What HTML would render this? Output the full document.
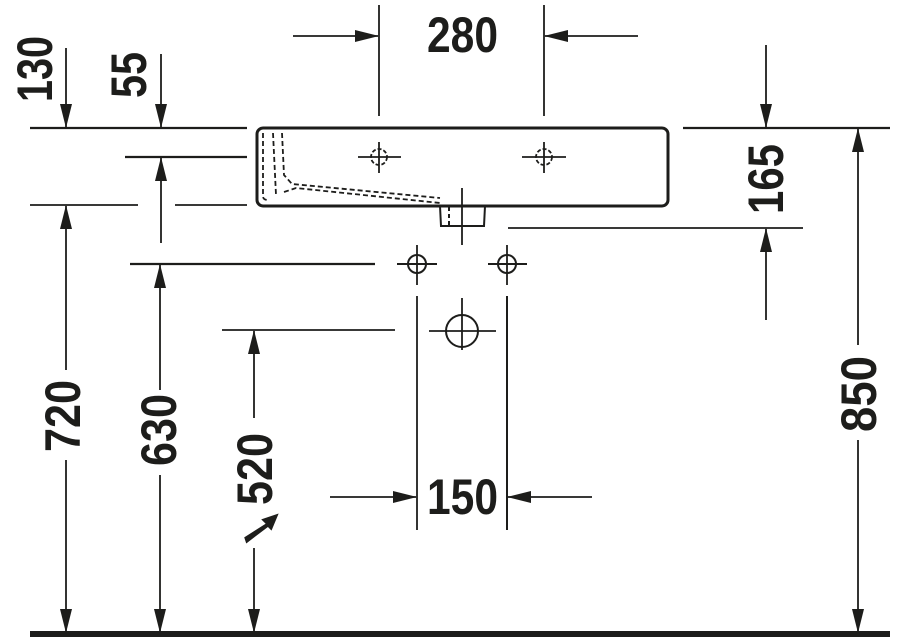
<!DOCTYPE html>
<html><head><style>
html,body{margin:0;padding:0;background:#fff;}
svg{display:block;}
text{font-family:"Liberation Sans Narrow","Liberation Sans",sans-serif;font-weight:bold;font-size:50px;fill:#1d1d1b;}
</style></head><body>
<svg width="900" height="642" viewBox="0 0 900 642" xmlns="http://www.w3.org/2000/svg">
<defs>
<marker id="a" viewBox="0 0 24 12" refX="23" refY="6" markerWidth="24" markerHeight="12" markerUnits="userSpaceOnUse" orient="auto"><path d="M0,0 L24,6 L0,12 z" fill="#1d1d1b"/></marker>
</defs>
<g stroke="#1d1d1b" fill="none" stroke-width="1.8">
<line x1="30" y1="634" x2="890" y2="634" stroke-width="6"/>
<line x1="30" y1="128" x2="247" y2="128" stroke-width="2.2"/>
<line x1="683" y1="128" x2="890" y2="128" stroke-width="2.2"/>
<line x1="125" y1="157" x2="247" y2="157" stroke-width="2.2"/>
<line x1="30" y1="205" x2="138" y2="205"/>
<line x1="175" y1="205" x2="247" y2="205"/>
<line x1="130" y1="264" x2="375" y2="264" stroke-width="2.2"/>
<line x1="222" y1="330" x2="395" y2="330"/>
<line x1="508" y1="228" x2="803" y2="228"/>
<rect x="257" y="128" width="411" height="78" rx="6" stroke-width="3"/>
<path d="M263,133 L263,196 Q263,200 268,200 M273,133 L276,195 M282,133 L284,175 L292,184 L440,198 M284,192 L296,188 L440,203" stroke-dasharray="5,3"/>
<path d="M440,206 L441,226 L484,226 L485,206" stroke-width="2"/>
<line x1="449" y1="207" x2="449" y2="225" stroke-dasharray="4,3" stroke-width="2"/>
<circle cx="379" cy="157" r="8" stroke-dasharray="4,2"/>
<line x1="358" y1="157" x2="401" y2="157"/><line x1="379" y1="142" x2="379" y2="173"/>
<circle cx="544" cy="157" r="8" stroke-dasharray="4,2"/>
<line x1="522" y1="157" x2="566" y2="157"/><line x1="544" y1="142" x2="544" y2="173"/>
<line x1="462" y1="188" x2="462" y2="245"/>
<circle cx="417" cy="264" r="9" stroke-width="2"/>
<line x1="397" y1="264" x2="437" y2="264" stroke-width="2"/><line x1="417" y1="245" x2="417" y2="285"/>
<circle cx="507" cy="264" r="9" stroke-width="2"/>
<line x1="488" y1="264" x2="527" y2="264" stroke-width="2"/><line x1="507" y1="245" x2="507" y2="285"/>
<circle cx="462" cy="331" r="16" stroke-width="2"/>
<line x1="429" y1="331" x2="496" y2="331"/><line x1="462" y1="298" x2="462" y2="350"/>
<line x1="417" y1="296" x2="417" y2="530"/>
<line x1="507" y1="296" x2="507" y2="530" stroke-width="2"/>
<line x1="330" y1="497" x2="416" y2="497" marker-end="url(#a)"/>
<line x1="592" y1="497" x2="508" y2="497" marker-end="url(#a)"/>
<line x1="379" y1="5" x2="379" y2="116"/>
<line x1="544" y1="5" x2="544" y2="116"/>
<line x1="293" y1="36" x2="378" y2="36" marker-end="url(#a)"/>
<line x1="638" y1="36" x2="545" y2="36" marker-end="url(#a)"/>
<line x1="66" y1="48" x2="66" y2="127" marker-end="url(#a)"/>
<line x1="161" y1="54" x2="161" y2="127" marker-end="url(#a)"/>
<line x1="161" y1="243" x2="161" y2="158" marker-end="url(#a)"/>
<line x1="66" y1="370" x2="66" y2="206" marker-end="url(#a)"/>
<line x1="66" y1="460" x2="66" y2="632" marker-end="url(#a)"/>
<line x1="160" y1="390" x2="160" y2="265" marker-end="url(#a)"/>
<line x1="160" y1="475" x2="160" y2="632" marker-end="url(#a)"/>
<line x1="254" y1="418" x2="254" y2="331" marker-end="url(#a)"/>
<line x1="254" y1="548" x2="254" y2="632" marker-end="url(#a)"/>
<line x1="858" y1="345" x2="858" y2="129" marker-end="url(#a)"/>
<line x1="858" y1="440" x2="858" y2="632" marker-end="url(#a)"/>
<line x1="766" y1="45" x2="766" y2="127" marker-end="url(#a)"/>
<line x1="766" y1="320" x2="766" y2="229" marker-end="url(#a)"/>
</g>
<path d="M246,538 L268,524 L264,520 L276,516 L271,528 L268,525 L247,541 z" fill="#1d1d1b" stroke="#1d1d1b" stroke-width="3"/>
<text x="427" y="52" textLength="71" lengthAdjust="spacingAndGlyphs">280</text>
<text x="427" y="514" textLength="71" lengthAdjust="spacingAndGlyphs">150</text>
<text transform="translate(52,102) rotate(-90)" textLength="66" lengthAdjust="spacingAndGlyphs">130</text>
<text transform="translate(146,98) rotate(-90)" textLength="46" lengthAdjust="spacingAndGlyphs">55</text>
<text transform="translate(80,452) rotate(-90)" textLength="72" lengthAdjust="spacingAndGlyphs">720</text>
<text transform="translate(176,466) rotate(-90)" textLength="72" lengthAdjust="spacingAndGlyphs">630</text>
<text transform="translate(272,505) rotate(-90)" textLength="72" lengthAdjust="spacingAndGlyphs">520</text>
<text transform="translate(876,432) rotate(-90)" textLength="76" lengthAdjust="spacingAndGlyphs">850</text>
<text transform="translate(783,214) rotate(-90)" textLength="70" lengthAdjust="spacingAndGlyphs">165</text>
</svg>
</body></html>
